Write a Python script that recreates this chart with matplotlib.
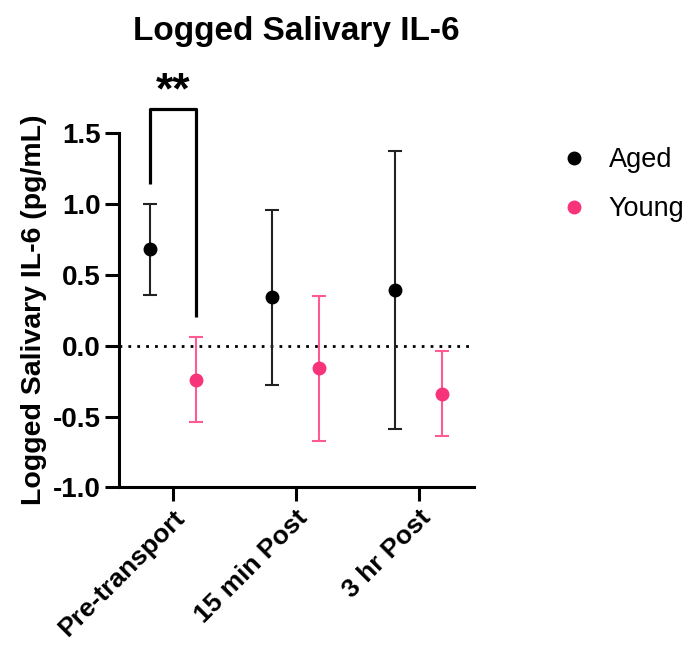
import matplotlib.pyplot as plt
from matplotlib.lines import Line2D
import numpy as np

plt.rcParams['font.family'] = ['Liberation Sans', 'DejaVu Sans']

timepoints = ['Pre-transport', '15 min Post', '3 hr Post']
aged_mean = [0.68, 0.34, 0.39]
aged_err = [0.32, 0.62, 0.98]
young_mean = [-0.24, -0.16, -0.34]
young_err = [0.30, 0.51, 0.30]
groups = ['Aged', 'Young']
colors = ['black', '#F7347A']

x = np.arange(len(timepoints))
offset = 0.19

fig = plt.figure(figsize=(6.99, 6.49), dpi=100)
ax = fig.add_axes([0.170, 0.249, 0.508, 0.546])

ax.axhline(0, color='black', ls=(0, (1, 2.2)), lw=2, zorder=1)

ax.errorbar(x - offset, aged_mean, yerr=aged_err, fmt='o', color=colors[0],
            ecolor='#222222', elinewidth=1.5, capsize=5, capthick=1.5,
            ms=9, zorder=3)
ax.errorbar(x + offset, young_mean, yerr=young_err, fmt='o', color=colors[1],
            ecolor='#FF5A93', elinewidth=1.5, capsize=5, capthick=1.5,
            ms=9, zorder=3)

# significance bracket for pre-transport
bx = [x[0] - offset, x[0] - offset, x[0] + offset, x[0] + offset]
by = [1.14, 1.67, 1.67, 0.20]
ax.plot(bx, by, color='black', lw=2.3, clip_on=False, solid_capstyle='butt')
ax.text(x[0], 1.645, '**', ha='center', va='bottom', fontsize=32,
        fontweight='bold')

ax.set_xlim(-0.44, 2.45)
ax.set_ylim(-1.0, 1.5)
ax.set_yticks([-1.0, -0.5, 0.0, 0.5, 1.0, 1.5])
ax.set_yticklabels(['-1.0', '-0.5', '0.0', '0.5', '1.0', '1.5'])
ax.set_xticks(x)
ax.set_xticklabels(timepoints, rotation=45, ha='right', rotation_mode='anchor')

for lab in ax.get_yticklabels():
    lab.set_fontweight('bold')
    lab.set_fontsize(20)
for lab in ax.get_xticklabels():
    lab.set_fontweight('bold')
    lab.set_fontsize(19)

ax.spines['top'].set_visible(False)
ax.spines['right'].set_visible(False)
ax.spines['left'].set_linewidth(2.2)
ax.spines['bottom'].set_linewidth(2.2)
ax.tick_params(axis='both', width=2.2, length=10, pad=3)

ax.set_ylabel('Logged Salivary IL-6 (pg/mL)', fontsize=20.5, fontweight='bold',
              labelpad=4)
ax.set_title('Logged Salivary IL-6', fontsize=24, fontweight='bold', pad=67)

handles = [Line2D([], [], ls='none', marker='o', ms=9, color=c) for c in colors]
ax.legend(handles, groups, loc='upper left', bbox_to_anchor=(1.212, 0.99),
          frameon=False, fontsize=19.5, handlelength=1.0, handletextpad=0.8,
          labelspacing=0.85, borderaxespad=0)

fig.savefig('out.png', dpi=100)
